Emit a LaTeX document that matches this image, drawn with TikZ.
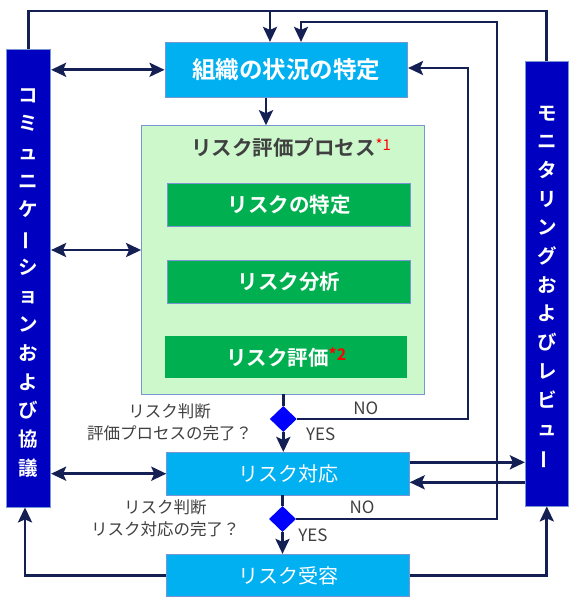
\documentclass[tikz,border=0pt]{standalone}
\usepackage{fontspec}
\setmainfont{Noto Sans CJK JP}[BoldFont={Noto Sans CJK JP Bold}]
\usetikzlibrary{shapes.geometric,arrows.meta}
\definecolor{linecol}{RGB}{20,32,84}
\definecolor{bordercol}{RGB}{120,150,210}
\definecolor{sidefill}{RGB}{0,0,192}
\definecolor{cyanfill}{RGB}{0,176,240}
\definecolor{panelfill}{RGB}{204,248,204}
\definecolor{greenfill}{RGB}{0,176,80}
\definecolor{diamondfill}{RGB}{0,0,255}
\definecolor{graytext}{RGB}{64,64,64}
\begin{document}
\begin{tikzpicture}[x=1pt,y=-1pt,
 boxbase/.style={draw=bordercol, line width=0.8pt, inner sep=0pt, text=white},
 sidebox/.style={boxbase, fill=sidefill},
 ctxbox/.style={boxbase, fill=cyanfill},
 greenbox/.style={boxbase, fill=greenfill, font=\fontsize{20.5}{24}\selectfont\bfseries},
 panelbox/.style={draw=bordercol, line width=0.8pt, fill=panelfill, inner sep=0pt},
 decision/.style={diamond, fill=diamondfill, inner sep=0pt, minimum width=27pt, minimum height=26pt},
 ln/.style={draw=linecol, line width=2.7pt},
 arr/.style={ln, -{Stealth[length=15pt,width=14pt,inset=3pt]}},
 darr/.style={ln, {Stealth[length=15pt,width=14pt,inset=3pt]}-{Stealth[length=15pt,width=14pt,inset=3pt]}},
 lbl/.style={text=graytext, font=\fontsize{16.5}{21.5}\selectfont, align=center, inner sep=0pt},
 yn/.style={text=graytext, font=\fontsize{17}{20}\selectfont, inner sep=0pt},
 vchar/.style={text=white, font=\fontsize{19.5}{20}\selectfont\bfseries, inner sep=0pt, anchor=base},
]
\useasboundingbox (0,0) rectangle (576,600);
\fill[white] (0,0) rectangle (576,600);

% side boxes
\node[sidebox, minimum width=44pt, minimum height=458pt] (comm) at (28.7,278) {};
\node[sidebox, minimum width=43pt, minimum height=445pt] (mon) at (546.8,283.5) {};
\foreach \c [count=\i] in {コ,ミ,ュ,ニ,ケ,{\rotatebox[origin=c]{90}{ー}},シ,ョ,ン,お,よ,び,協,議}
  \node[vchar] (cl\i) at (28.7,{95+(\i-1)*28.7+7}) {\c};
\foreach \c [count=\i] in {モ,ニ,タ,リ,ン,グ,お,よ,び,レ,ビ,ュ,{\rotatebox[origin=c]{90}{ー}}}
  \node[vchar] (cr\i) at (546.8,{113+(\i-1)*28.7+7}) {\c};

% main boxes
\node[ctxbox, minimum width=242.7pt, minimum height=55pt, font=\fontsize{23.5}{26}\selectfont\bfseries] (ctx) at (286.3,69.8) {組織の状況の特定};
\node[panelbox, minimum width=283pt, minimum height=268.3pt] (panel) at (283,259.8) {};
\node[text=graytext, font=\fontsize{20.5}{24}\selectfont\bfseries, inner sep=0pt] (ttl) at (291,148) {リスク評価プロセス{\mdseries\color{red}\raisebox{5pt}{\fontsize{15}{16}\selectfont *1}}};
\node[greenbox, minimum width=243.4pt, minimum height=43.4pt] (g1) at (289,205) {リスクの特定};
\node[greenbox, minimum width=243.4pt, minimum height=43.4pt] (g2) at (289,281.7) {リスク分析};
\node[greenbox, draw=none, minimum width=242.3pt, minimum height=42.6pt] (g3) at (286.2,357) {リスク評価{\color{red}\raisebox{5pt}{\fontsize{16}{16}\selectfont *2}}};
\node[ctxbox, minimum width=242.6pt, minimum height=42.7pt, font=\fontsize{20}{24}\selectfont] (resp) at (288,473.7) {リスク対応};
\node[ctxbox, minimum width=242.6pt, minimum height=42.4pt, font=\fontsize{20}{24}\selectfont] (acc) at (288,575.5) {リスク受容};
\node[decision] (d1) at (283.3,419) {};
\node[decision] (d2) at (282.5,519) {};

% labels
\node[lbl] (q1) at (169.5,422.3) {リスク判断\\評価プロセスの完了？};
\node[lbl] (q2) at (165.3,518) {リスク判断\\リスク対応の完了？};
\node[yn] (no1) at (365.7,408) {NO};
\node[yn] (yes1) at (320.7,434) {YES};
\node[yn] (no2) at (362,507.7) {NO};
\node[yn] (yes2) at (313,535) {YES};

% helper coordinates
\coordinate (ytop) at (300,11);
\coordinate (topA) at (270,11);
\coordinate (c2a) at (497,22);
\coordinate (c2b) at (301,22);
\coordinate (c3) at (468,68);
\coordinate (x266) at (266,0);
\coordinate (y250) at (0,250);
\coordinate (y462) at (0,462.3);
\coordinate (y482) at (0,482.3);
\coordinate (bl) at (25,0);

% connectors
\draw[ln] (comm.north) |- (ytop) -| (mon.north);
\draw[arr] (topA) -- (topA |- ctx.north);
\draw[arr] (d2.east) -| (c2a) -- (c2b) -- (c2b |- ctx.north);
\draw[arr] (d1.east) -| (c3) -- (c3 -| ctx.east);
\draw[arr] (x266 |- ctx.south) -- (x266 |- panel.north);
\draw[darr] (comm.east |- ctx.west) -- (ctx.west);
\draw[darr] (comm.east |- y250) -- (panel.west |- y250);
\draw[darr] (comm.east |- resp.west) -- (resp.west);
\draw[arr] (resp.east |- y462) -- (mon.west |- y462);
\draw[arr] (mon.west |- y482) -- (resp.east |- y482);
\draw[ln] (d1.north |- panel.south) -- (d1.north);
\draw[arr] (d1.south) -- (d1.south |- resp.north);
\draw[ln] (d2.north |- resp.south) -- (d2.north);
\draw[arr] (d2.south) -- (d2.south |- acc.north);
\draw[arr] (acc.west) -| (bl |- comm.south);
\draw[arr] (acc.east) -| (mon.south);
\end{tikzpicture}
\end{document}
